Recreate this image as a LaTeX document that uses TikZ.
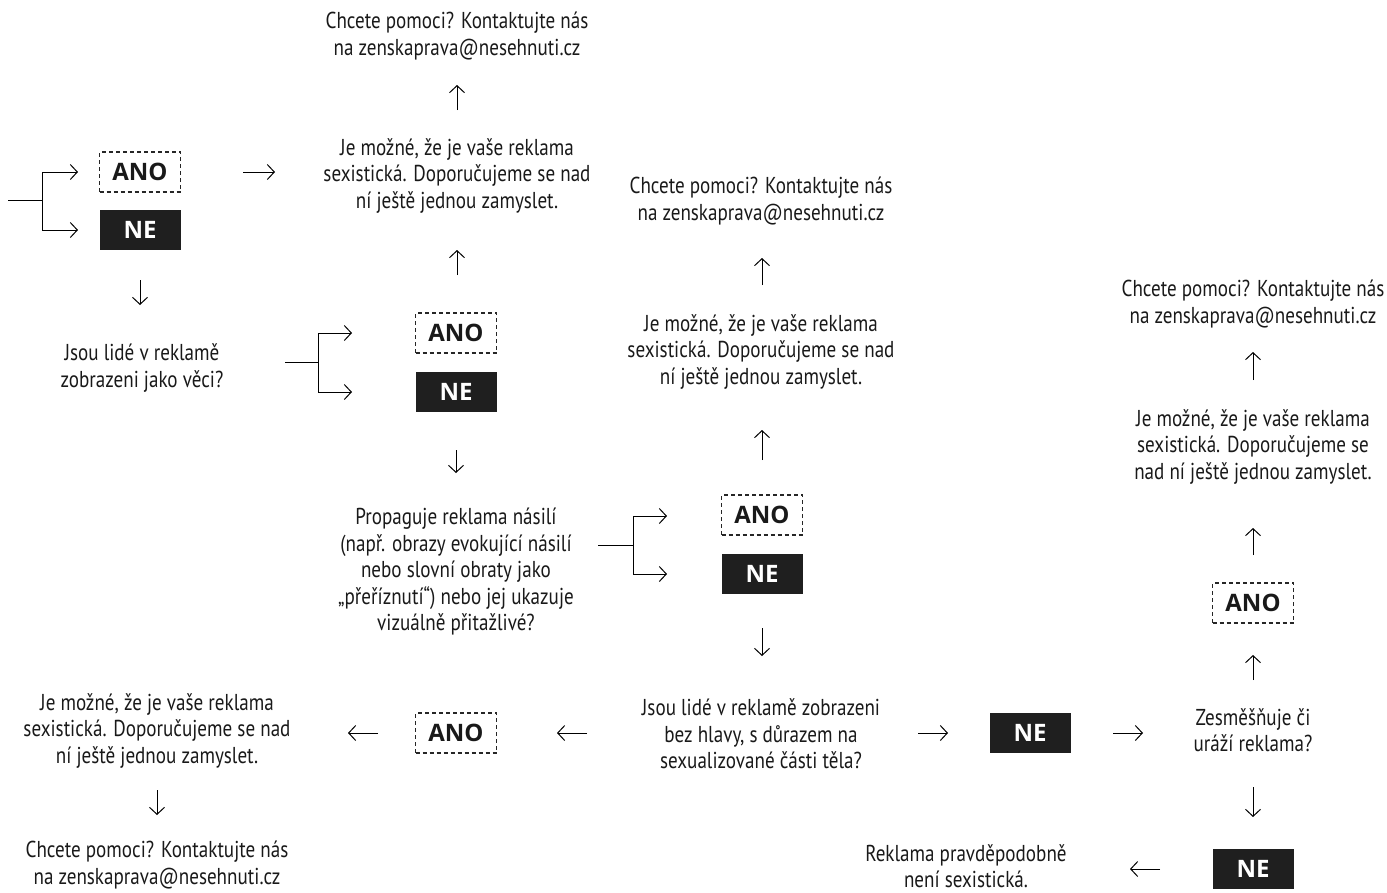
\documentclass[tikz,border=0pt]{standalone}
\usepackage{fontspec}
\setmainfont{PT Sans}[FakeStretch=0.83]
\newfontfamily\boxfont{Open Sans}
\usetikzlibrary{arrows.meta}
\begin{document}
\begin{tikzpicture}[x=1pt,y=-1pt,
 txt/.style={align=center,font=\fontsize{23}{26.5}\selectfont,inner sep=0pt,text=black!90},
 anobox/.style={draw=black!85,dash pattern=on 4pt off 3pt,line width=1.3pt,minimum width=81pt,minimum height=40pt,font=\boxfont\bfseries\fontsize{24}{24}\selectfont,text=black!90,inner sep=0pt},
 nebox/.style={fill=black!88,minimum width=81pt,minimum height=40pt,font=\boxfont\bfseries\fontsize{24}{24}\selectfont,text=white,inner sep=0pt},
 arr/.style={-{Straight Barb[length=7pt,width=15pt]},line width=1pt},
 ln/.style={line width=1pt}]
\useasboundingbox (0,0) rectangle (1387,892);

% nodes
\node[txt] (c1) at (457,36) {Chcete pomoci? Kontaktujte nás\\na zenskaprava@nesehnuti.cz};
\node[txt] (j1) at (457,176) {Je možné, že je vaše reklama\\sexistická. Doporučujeme se nad\\ní ještě jednou zamyslet.};
\node[anobox] (a1) at (140,172) {ANO};
\node[nebox] (n1) at (140,230) {NE};
\node[txt] (q1) at (142,368) {Jsou lidé v reklamě\\zobrazeni jako věci?};
\node[anobox] (a2) at (456,333) {ANO};
\node[nebox] (n2) at (456,392) {NE};
\node[txt] (q2) at (456,572) {Propaguje reklama násilí\\(např. obrazy evokující násilí\\nebo slovní obraty jako\\„přeříznutí“) nebo jej ukazuje\\vizuálně přitažlivé?};
\node[anobox] (a3) at (762,515) {ANO};
\node[nebox] (n3) at (762,574) {NE};
\node[txt] (q3) at (761,734) {Jsou lidé v reklamě zobrazeni\\bez hlavy, s důrazem na\\sexualizované části těla?};
\node[txt] (j2) at (761,352) {Je možné, že je vaše reklama\\sexistická. Doporučujeme se nad\\ní ještě jednou zamyslet.};
\node[txt] (c2) at (761,201) {Chcete pomoci? Kontaktujte nás\\na zenskaprava@nesehnuti.cz};
\node[anobox] (a4) at (456,733) {ANO};
\node[txt] (j3) at (157,731) {Je možné, že je vaše reklama\\sexistická. Doporučujeme se nad\\ní ještě jednou zamyslet.};
\node[txt] (c3) at (157,865) {Chcete pomoci? Kontaktujte nás\\na zenskaprava@nesehnuti.cz};
\node[nebox] (n4) at (1030,733) {NE};
\node[txt] (q4) at (1253,730) {Zesměšňuje či\\uráží reklama?};
\node[anobox] (a5) at (1253,603) {ANO};
\node[txt] (j4) at (1253,447) {Je možné, že je vaše reklama\\sexistická. Doporučujeme se\\nad ní ještě jednou zamyslet.};
\node[txt] (c4) at (1253,304) {Chcete pomoci? Kontaktujte nás\\na zenskaprava@nesehnuti.cz};
\node[nebox] (n5) at (1253,869) {NE};
\node[txt] (r) at (966,866) {Reklama pravděpodobně\\není sexistická.};

% branch 0 (left edge)
\coordinate (b0s) at (8,200); \coordinate (b0m) at (42,200);
\draw[ln] (b0s) -- (b0m);
\draw[ln] (42,172) -- (42,230);
\draw[arr] (42,172) -- (78,172);
\draw[arr] (42,230) -- (78,230);
% branch 1
\draw[ln] (285,362) -- (318,362);
\draw[ln] (318,333) -- (318,392);
\draw[arr] (318,333) -- (352,333);
\draw[arr] (318,392) -- (352,392);
% branch 2
\draw[ln] (598,545) -- (633,545);
\draw[ln] (633,516) -- (633,574);
\draw[arr] (633,516) -- (667,516);
\draw[arr] (633,574) -- (667,574);

% simple arrows
\draw[arr] (457,110) -- (457,85);
\draw[arr] (243,172) -- (275,172);
\draw[arr] (457,275) -- (457,250);
\draw[arr] (140,280) -- (140,305);
\draw[arr] (456,450) -- (456,473);
\draw[arr] (762,460) -- (762,430);
\draw[arr] (762,285) -- (762,258);
\draw[arr] (762,628) -- (762,656);
\draw[arr] (587,733) -- (557,733);
\draw[arr] (378,733) -- (348,733);
\draw[arr] (157,790) -- (157,815);
\draw[arr] (918,733) -- (948,733);
\draw[arr] (1113,733) -- (1143,733);
\draw[arr] (1253,680) -- (1253,655);
\draw[arr] (1253,555) -- (1253,528);
\draw[arr] (1253,380) -- (1253,352);
\draw[arr] (1253,787) -- (1253,817);
\draw[arr] (1160,869) -- (1130,869);
\end{tikzpicture}
\end{document}
